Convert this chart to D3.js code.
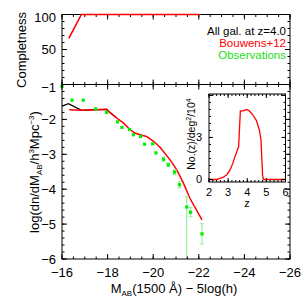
<!DOCTYPE html>
<html><head><meta charset="utf-8">
<script src="https://cdn.jsdelivr.net/npm/d3@7"></script>
<style>body{margin:0;background:#fff}svg{display:block}text{font-family:"Liberation Sans",Arial,sans-serif}</style>
</head><body><svg id="c" width="305" height="305"></svg>
<script>
// Completeness panel
const compX = [-16.3, -16.85, -22.05];
const compY = [66, 100, 100];
// Black model: all galaxies at z=4.0
const allX = [-16.0, -16.28, -16.86, -17.52, -17.96, -18.1, -18.4];
const allY = [-1.62, -1.55, -1.74, -1.72, -1.71, -1.80, -1.96];
// Red: Bouwens+12 selected
const bouX = [-16.32, -16.86, -17.52, -17.96, -18.1, -18.4, -18.69, -18.98, -19.2, -19.42, -19.71, -20.0, -20.3, -20.74, -21.03, -21.32, -21.61, -22.14];
const bouY = [-1.72, -1.74, -1.72, -1.71, -1.80, -1.96, -2.10, -2.29, -2.39, -2.44, -2.49, -2.62, -2.80, -3.16, -3.44, -3.82, -4.26, -4.88];
// Observations
const obsX = [-16.0, -16.44, -16.93, -17.48, -17.96, -18.43, -18.63, -18.96, -19.13, -19.45, -19.62, -19.98, -20.12, -20.45, -20.66, -20.94, -21.15, -21.47, -21.64, -22.14];
const obsY = [-1.05, -1.45, -1.45, -1.70, -1.80, -2.07, -2.23, -2.29, -2.44, -2.49, -2.71, -2.70, -2.96, -3.14, -3.30, -3.51, -3.87, -4.51, -4.66, -5.28];
const obsErrUp = [0, 0, 0, 0, 0, 0, 0, 0, 0, 0, 0, 0, 0, 0.06, 0.05, 0.07, 0.09, 0.30, 0.13, 0.29];
const obsErrLo = [0, 0, 0, 0, 0, 0, 0, 0, 0, 0, 0, 0, 0, 0.06, 0.05, 0.07, 0.09, 3.0, 0.13, 0.29];
// Inset N(z)
const nzZ = [2.0, 2.4, 2.5, 2.75, 2.93, 3.1, 3.24, 3.36, 3.45, 3.55, 3.64, 3.79, 3.97, 4.1, 4.3, 4.48, 4.64, 4.72, 4.8, 4.85, 6.0];
const nzN = [0, 0, 0.05, 0.16, 0.34, 0.68, 1.13, 1.65, 1.96, 2.37, 4.9, 4.9, 5.0, 4.9, 4.6, 4.2, 3.5, 2.8, 0.3, 0, 0];
// Tick labels
const xTicks = [-16, -18, -20, -22, -24, -26];
const yTicks = [-1, -2, -3, -4, -5, -6];
const cTicks = [50, 100];
const zTicks = [2, 3, 4, 5, 6];
const nTicks = [0, 3];

const svg = d3.select("#c");
const L = 62, R = 290;
const x = d3.scaleLinear().domain([-16, -26]).range([L, R]);
const yc = d3.scaleLinear().domain([0, 100]).range([84.5, 14.5]);
const y = d3.scaleLinear().domain([-6, -1]).range([259, 84.5]);
const xi = d3.scaleLinear().domain([2, 6]).range([209, 285.5]);
const yi = d3.scaleLinear().domain([-0.18, 6.1]).range([182, 94]);

const RED = "#ff0000", GREEN = "#00ee00", LGREEN = "#99ee99";

function frame(sx, sy, xmaj, xmin, ymaj, ymin, maj, mn) {
  const [x0, x1] = sx.range(), [y0, y1] = sy.range();
  const g = svg.append("g");
  g.append("rect").attr("x", Math.min(x0,x1)).attr("y", Math.min(y0,y1))
    .attr("width", Math.abs(x1-x0)).attr("height", Math.abs(y1-y0))
    .attr("fill", "none").attr("stroke", "#000").attr("stroke-width", 1);
  const tk = (vals, len) => {
    vals.forEach(v => {
      const px = sx(v);
      g.append("line").attr("x1", px).attr("x2", px).attr("y1", y0).attr("y2", y0 - len).attr("stroke", "#000");
      g.append("line").attr("x1", px).attr("x2", px).attr("y1", y1).attr("y2", y1 + len).attr("stroke", "#000");
    });
  };
  const tky = (vals, len) => {
    vals.forEach(v => {
      const py = sy(v);
      g.append("line").attr("y1", py).attr("y2", py).attr("x1", x0).attr("x2", x0 + len).attr("stroke", "#000");
      g.append("line").attr("y1", py).attr("y2", py).attr("x1", x1).attr("x2", x1 - len).attr("stroke", "#000");
    });
  };
  tk(xmaj, maj); tk(xmin, mn); tky(ymaj, maj); tky(ymin, mn);
}
const rng = (a, b, s) => d3.range(Math.round((b - a) / s) + 1).map(i => +(a + i * s).toFixed(4));

// clip paths
const defs = svg.append("defs");
defs.append("clipPath").attr("id", "cm").append("rect").attr("x", L).attr("y", 84.5).attr("width", R - L).attr("height", 259 - 84.5);
defs.append("clipPath").attr("id", "ct").append("rect").attr("x", L).attr("y", 12).attr("width", R - L).attr("height", 73);

// Top panel
frame(x, yc, rng(-26, -16, 2), rng(-26, -16, 0.5), [0, 50, 100], rng(0, 100, 10), 5, 2.5);
svg.append("path").attr("clip-path", "url(#ct)")
  .attr("d", d3.line().x(d => x(d[0])).y(d => yc(d[1]))(d3.zip(compX, compY)))
  .attr("fill", "none").attr("stroke", RED).attr("stroke-width", 1.6);

// Main panel curves
const mg = svg.append("g").attr("clip-path", "url(#cm)");
mg.append("path").attr("d", d3.line().x(d => x(d[0])).y(d => y(d[1]))(d3.zip(allX, allY)))
  .attr("fill", "none").attr("stroke", "#000").attr("stroke-width", 1.2);
mg.append("path").attr("d", d3.line().x(d => x(d[0])).y(d => y(d[1]))(d3.zip(bouX, bouY)))
  .attr("fill", "none").attr("stroke", RED).attr("stroke-width", 1.5);
// error bars
obsX.forEach((xv, i) => {
  if (obsErrUp[i] > 0 || obsErrLo[i] > 0) {
    const px = x(xv);
    const yt = y(obsY[i] + obsErrUp[i]), yb = y(obsY[i] - obsErrLo[i]);
    mg.append("line").attr("x1", px).attr("x2", px).attr("y1", yt).attr("y2", yb).attr("stroke", LGREEN).attr("stroke-width", 1.2);
    mg.append("line").attr("x1", px - 2).attr("x2", px + 2).attr("y1", yt).attr("y2", yt).attr("stroke", LGREEN).attr("stroke-width", 1.2);
    mg.append("line").attr("x1", px - 2).attr("x2", px + 2).attr("y1", yb).attr("y2", yb).attr("stroke", LGREEN).attr("stroke-width", 1.2);
  }
});
svg.append("g").selectAll("rect").data(d3.zip(obsX, obsY)).join("rect")
  .attr("x", d => x(d[0]) - 1.6).attr("y", d => y(d[1]) - 1.6)
  .attr("width", 3.2).attr("height", 3.2).attr("fill", GREEN);
frame(x, y, rng(-26, -16, 2), rng(-26, -16, 0.5), rng(-6, -1, 1), rng(-6, -1, 0.2), 5, 2.5);

// Inset
svg.append("rect").attr("x", 209).attr("y", 94).attr("width", 76.5).attr("height", 88).attr("fill", "#fff");
svg.append("path").attr("d", d3.line().x(d => xi(d[0])).y(d => yi(d[1]))(d3.zip(nzZ, nzN)))
  .attr("fill", "none").attr("stroke", RED).attr("stroke-width", 1.3);
frame(xi, yi, rng(2, 6, 1), rng(2, 6, 0.2), [0, 3, 6], rng(0, 6, 0.5), 4, 2);

// Text
const T = (xx, yy, s, size, anchor, color) => svg.append("text").attr("x", xx).attr("y", yy)
  .attr("font-size", size).attr("text-anchor", anchor || "middle").attr("fill", color || "#000").text(s);

xTicks.forEach(v => T(x(v), 277, "\u2212" + Math.abs(v), 13));
yTicks.forEach(v => T(56, y(v) + 4.5 + (v === -1 ? 3 : 0), "\u2212" + Math.abs(v), 13, "end"));
cTicks.forEach(v => T(56, yc(v) + 4.5 + (v === 100 ? 3 : 0), String(v), 13, "end"));
zTicks.forEach(v => T(xi(v), 196, String(v), 11));
nTicks.forEach(v => T(202, yi(v) + 4, String(v), 11, "end"));
T(247, 207, "z", 11);

// Legend
T(286, 34.5, "All gal. at z=4.0", 11.5, "end");
T(286, 46.5, "Bouwens+12", 11.5, "end", RED);
T(286, 58.5, "Observations", 11.5, "end", "#22dd22");

// Axis titles
const xt = svg.append("text").attr("x", 174).attr("y", 293).attr("font-size", 13).attr("text-anchor", "middle");
xt.append("tspan").text("M");
xt.append("tspan").attr("font-size", 8).attr("dy", 3).text("AB");
xt.append("tspan").attr("dy", -3).text("(1500 \u00c5) \u2212 5log(h)");

const yt = svg.append("text").attr("transform", "translate(38.5,172) rotate(-90)").attr("font-size", 13).attr("text-anchor", "middle");
yt.append("tspan").text("log(dn/dM");
yt.append("tspan").attr("font-size", 8).attr("dy", 3).text("AB");
yt.append("tspan").attr("dy", -3).text("/h");
yt.append("tspan").attr("font-size", 8).attr("dy", -5).text("3");
yt.append("tspan").attr("dy", 5).text("Mpc");
yt.append("tspan").attr("font-size", 8).attr("dy", -5).text("\u22123");
yt.append("tspan").attr("dy", 5).text(")");

svg.append("text").attr("transform", "translate(25.5,50) rotate(-90)").attr("font-size", 13)
  .attr("text-anchor", "middle").text("Completness");

const it = svg.append("text").attr("transform", "translate(195,134) rotate(-90)").attr("font-size", 10.5).attr("text-anchor", "middle");
it.append("tspan").text("No.(z)/deg");
it.append("tspan").attr("font-size", 7).attr("dy", -4).text("2");
it.append("tspan").attr("dy", 4).text("/10");
it.append("tspan").attr("font-size", 7).attr("dy", -4).text("4");
</script></body></html>
